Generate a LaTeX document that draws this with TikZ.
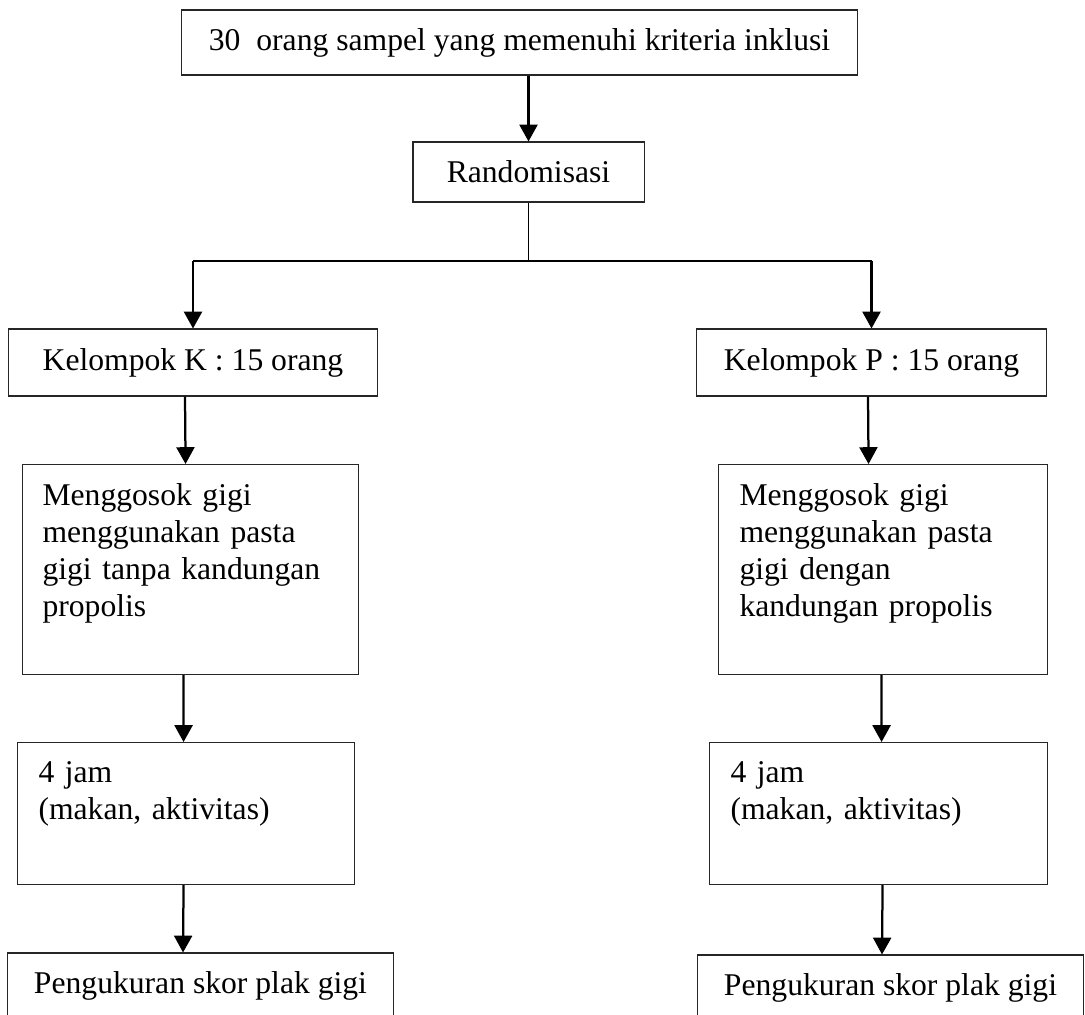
\documentclass[tikz,border=0pt]{standalone}
\usepackage{fontspec}
\setmainfont{Liberation Serif}
\usetikzlibrary{arrows.meta}

\begin{document}
\begin{tikzpicture}[x=0.025cm, y=-0.025cm,
  box/.style={draw=black!85, line width=0.75pt, inner sep=0pt, font=\fontsize{22.5}{26.3}\selectfont},
  tallbox/.style={box, anchor=north west, align=left, inner xsep=0.525cm, inner ysep=0pt},
  link/.style={black, line width=0.9pt},
  arr/.style={black, line width=1.6pt, -{Triangle[length=0.42cm, width=0.45cm]}}]

% page frame
\useasboundingbox (0,0) rectangle (1085,1014);
\clip (0,0) rectangle (1085,1014);

% top part
\node[box, minimum width=16.875cm, minimum height=1.625cm] (top) at (519.5,42.5) {30\ \ orang sampel yang memenuhi kriteria inklusi};
\node[box, minimum width=5.775cm, minimum height=1.5cm] (rand) at (528.5,172) {Randomisasi};
\coordinate (split) at (528.5,261);

% the two groups
\node[box, minimum width=9.2cm, minimum height=1.675cm] (grpK) at (193,362.5) {Kelompok K : 15 orang};
\node[box, minimum width=8.725cm, minimum height=1.675cm] (grpP) at (871.5,362.5) {Kelompok P : 15 orang};

% brushing
\node[tallbox, inner xsep=0.5cm, text width=7.4cm, text height=1.025cm, text depth=4.225cm] (brushK) at (22,464)
  {Menggosok gigi\\menggunakan pasta\\gigi tanpa kandungan\\propolis};
\node[tallbox, text width=7.175cm, text height=1.025cm, text depth=4.225cm] (brushP) at (718,464)
  {Menggosok gigi\\menggunakan pasta\\gigi dengan\\kandungan propolis};

% waiting time
\node[tallbox, text width=7.375cm, text height=1.0cm, text depth=2.55cm] (waitK) at (17,742)
  {4 jam\\(makan, aktivitas)};
\node[tallbox, text width=7.4cm, text height=1.0cm, text depth=2.55cm] (waitP) at (709,742)
  {4 jam\\(makan, aktivitas)};

% plaque score
\node[box, minimum width=9.625cm, minimum height=1.65cm] (scoreK) at (200.5,986) {Pengukuran skor plak gigi};
\node[box, minimum width=9.625cm, minimum height=1.65cm] (scoreP) at (890.5,988) {Pengukuran skor plak gigi};

% arrows
\draw[arr] (top.south -| rand.north) -- (rand.north);
\draw[link] (rand.south) -- (split);
\draw[link] (split -| grpK.north) -- (split -| grpP.north);
\draw[arr] (split -| grpK.north) -- (grpK.north);
\draw[arr] (split -| grpP.north) -- (grpP.north);

\draw[arr] ([xshift=-0.2cm]grpK.south) -- ([xshift=-0.125cm]brushK.north);
\draw[arr] ([xshift=-0.175cm]brushK.south) -- ([xshift=-0.0625cm]waitK.north);
\draw[arr] ([xshift=-0.0625cm]waitK.south) -- ([xshift=-0.4375cm]scoreK.north);

\draw[arr] ([xshift=-0.0875cm]grpP.south) -- ([xshift=-0.3625cm]brushP.north);
\draw[arr] ([xshift=-0.0375cm]brushP.south) -- ([xshift=0.075cm]waitP.north);
\draw[arr] ([xshift=0.1cm]waitP.south) -- ([xshift=-0.2125cm]scoreP.north);

\end{tikzpicture}
\end{document}
